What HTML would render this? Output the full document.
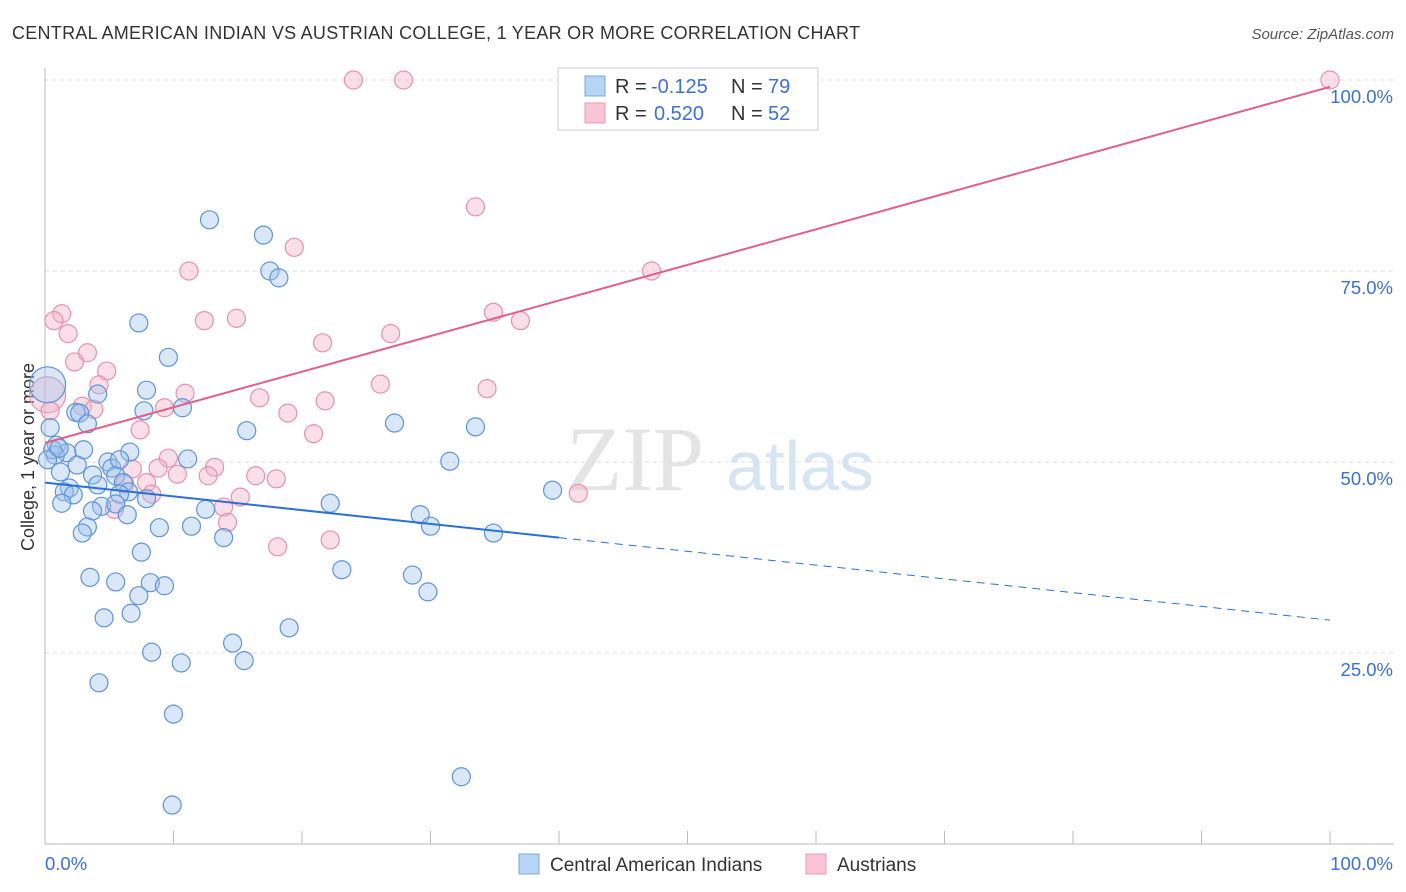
<!DOCTYPE html>
<html><head><meta charset="utf-8"><style>
body{margin:0;background:#fff;font-family:"Liberation Sans",sans-serif;}
svg{display:block}
</style></head><body>
<svg id="chart" width="1406" height="892">
<text x="12" y="39" font-size="18" fill="#333" textLength="848">CENTRAL AMERICAN INDIAN VS AUSTRIAN COLLEGE, 1 YEAR OR MORE CORRELATION CHART</text>
<text x="1394" y="39" font-size="15" fill="#555" font-style="italic" text-anchor="end">Source: ZipAtlas.com</text>
<text x="34" y="457" font-size="18" fill="#333" text-anchor="middle" transform="rotate(-90 34 457)">College, 1 year or more</text>
<g>
<text x="635" y="490" font-size="92" fill="#e4e4e4" text-anchor="middle" font-family="Liberation Serif, serif">ZIP</text>
<text x="800" y="490" font-size="70" fill="#d6e4f4" text-anchor="middle">atlas</text>
</g>
<g id="grid"></g>
<g id="axes"></g>
<g id="points"></g>
<g id="lines"></g>
<g>
<rect x="558" y="68" width="260" height="62" fill="#fff" stroke="#ccc"/>
<rect x="585" y="76" width="20" height="20" fill="#b8d4f4" stroke="#7aa8e0"/>
<text y="93" font-size="20" fill="#333"><tspan x="615">R =</tspan><tspan x="651" fill="#3a70d8">-0.125</tspan><tspan x="731">N =</tspan><tspan x="768" fill="#3a70d8">79</tspan></text>
<rect x="585" y="103" width="20" height="20" fill="#f9c4d4" stroke="#e99ab4"/>
<text y="120" font-size="20" fill="#333"><tspan x="615">R =</tspan><tspan x="654" fill="#3a70d8">0.520</tspan><tspan x="731">N =</tspan><tspan x="768" fill="#3a70d8">52</tspan></text>
</g>
<g>
<rect x="519" y="854" width="20" height="20" fill="#b8d4f4" stroke="#7aa8e0"/>
<text x="550" y="871" font-size="19" fill="#333">Central American Indians</text>
<rect x="806" y="854" width="20" height="20" fill="#f9c4d4" stroke="#e99ab4"/>
<text x="837" y="871" font-size="19" fill="#333">Austrians</text>
</g>
</svg>
<script>
const yTicks=[25,50,75,100];
const yTickLabels=["25.0%","50.0%","75.0%","100.0%"];
const xTickLabels=["0.0%","100.0%"];
const blueX=[12.8,17.0,17.5,18.2,7.3,9.6,7.9,4.1,10.7,7.7,2.4,2.7,3.3,27.2,15.7,33.5,0.9,3.0,1.7,0.8,6.6,31.5,2.5,1.2,4.9,11.1,5.2,3.7,5.5,1.9,4.1,6.1,6.5,5.8,39.5,1.5,2.2,7.9,1.3,22.2,4.4,3.7,5.5,12.5,6.4,29.2,30.0,3.3,2.9,8.9,11.4,13.9,34.9,7.5,3.5,5.5,23.1,8.2,9.3,28.6,7.3,29.8,4.6,6.7,19.0,14.6,8.3,10.6,15.5,4.2,10.0,32.4,9.9,0.2,0.4,0.6,0.2,5.8,1.1];
const blueY=[81.7,79.7,75.0,74.1,68.2,63.7,59.4,58.9,57.1,56.7,56.5,56.4,55.0,55.1,54.1,54.6,52.2,51.6,51.2,50.9,51.3,50.1,49.6,48.7,50.0,50.4,49.2,48.3,48.2,46.6,47.0,47.3,46.1,45.8,46.3,46.1,45.7,45.2,44.6,44.6,44.2,43.6,44.5,43.8,43.1,43.1,41.6,41.5,40.7,41.4,41.6,40.1,40.7,38.2,34.9,34.3,35.9,34.2,33.8,35.2,32.5,33.0,29.6,30.2,28.3,26.3,25.1,23.7,24.0,21.1,17.0,8.8,5.1,60.1,54.5,51.6,50.3,50.3,51.8];
const blueBig=[0,0,0,0,0,0,0,0,0,0,0,0,0,0,0,0,0,0,0,0,0,0,0,0,0,0,0,0,0,0,0,0,0,0,0,0,0,0,0,0,0,0,0,0,0,0,0,0,0,0,0,0,0,0,0,0,0,0,0,0,0,0,0,0,0,0,0,0,0,0,0,0,0,1,0,0,0,0,0];
const pinkX=[24.0,27.9,100,33.5,19.4,11.2,47.2,1.3,0.7,14.9,12.4,34.9,37.0,1.8,26.9,21.6,3.3,2.3,4.8,4.2,26.1,34.4,10.9,0.2,16.7,2.9,3.8,9.3,18.9,21.8,7.4,20.9,0.4,9.6,8.8,6.8,13.2,10.3,12.7,16.4,18.0,6.2,7.9,8.3,15.2,5.4,13.9,14.2,22.2,18.1,41.5,52.3];
const pinkY=[100,100,100,83.4,78.1,75.0,75.0,69.4,68.5,68.8,68.5,69.6,68.5,66.8,66.8,65.6,64.3,63.1,61.9,60.1,60.2,59.6,59.0,58.8,58.4,57.3,56.9,57.1,56.4,58.0,54.2,53.7,56.7,50.5,49.2,49.1,49.3,48.4,48.2,48.2,47.8,47.1,47.3,45.8,45.4,43.8,44.1,42.1,39.8,38.9,45.9,95.3];
const pinkBig=[0,0,0,0,0,0,0,0,0,0,0,0,0,0,0,0,0,0,0,0,0,0,0,1,0,0,0,0,0,0,0,0,0,0,0,0,0,0,0,0,0,0,0,0,0,0,0,0,0,0,0,0];
const blueTrend=[47.3,29.3];
const pinkTrend=[52.5,99.1];
const blueSolidEnd=40;

const NS="http://www.w3.org/2000/svg";
const X=v=>45+v*12.85;
const Y=v=>844-v*7.64;
function mk(tag,attrs,parent){const e=document.createElementNS(NS,tag);for(const k in attrs)e.setAttribute(k,attrs[k]);parent.appendChild(e);return e;}
const grid=document.getElementById('grid'),axes=document.getElementById('axes'),pts=document.getElementById('points'),lines=document.getElementById('lines');
yTicks.forEach((t,i)=>{
 const g=mk('line',{x1:45,x2:1394,y1:Y(t),y2:Y(t),stroke:'#ddd','stroke-dasharray':'4,4'},grid);
 
 
 const l=mk('text',{x:1393,y:Y(t)+23,'font-size':18.5,fill:'#3a70d8','text-anchor':'end'},axes);
 l.textContent=yTickLabels[i];
 
 
});
const ya=mk('line',{x1:45,x2:45,y1:68,y2:844,stroke:'#bbb'},axes);


const xa=mk('line',{x1:45,x2:1394,y1:844,y2:844,stroke:'#bbb'},axes);


for(let i=0;i<=10;i++){
 const t=mk('line',{x1:X(i*10),x2:X(i*10),y1:831,y2:844,stroke:'#bbb'},axes);
 
 
}
const xl0=mk('text',{x:45,y:870,'font-size':18.5,fill:'#3a70d8'},axes);
xl0.textContent=xTickLabels[0];


const xl1=mk('text',{x:1393,y:870,'font-size':18.5,fill:'#3a70d8','text-anchor':'end'},axes);
xl1.textContent=xTickLabels[1];



function drawPts(xs,ys,big,fill,stroke,name){
 xs.forEach((x,i)=>{
  const c=mk('circle',{cx:X(x),cy:Y(ys[i]),r:big[i]?18:9,fill:fill,'fill-opacity':0.4,stroke:stroke,'stroke-width':1.2},pts);
  
  
 });
}
drawPts(pinkX,pinkY,pinkBig,'#f6b0c6','#e890ae','austrian-point');
drawPts(blueX,blueY,blueBig,'#9fc2ee','#5e93dc','central-american-indian-point');

const by=x=>blueTrend[0]+(blueTrend[1]-blueTrend[0])*x/100;
const b1=mk('line',{x1:X(0),y1:Y(by(0)),x2:X(blueSolidEnd),y2:Y(by(blueSolidEnd)),stroke:'#2a6fd6','stroke-width':2},lines);


const b2=mk('line',{x1:X(blueSolidEnd),y1:Y(by(blueSolidEnd)),x2:X(100),y2:Y(by(100)),stroke:'#2a6fd6','stroke-width':1,'stroke-dasharray':'8,6'},lines);


const p1=mk('line',{x1:X(0),y1:Y(pinkTrend[0]),x2:X(100),y2:Y(pinkTrend[1]),stroke:'#e2608c','stroke-width':2},lines);


</script>
</body></html>
